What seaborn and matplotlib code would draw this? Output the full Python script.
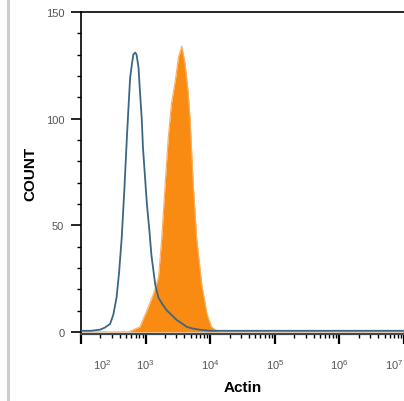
import matplotlib
matplotlib.use("Agg")
import matplotlib.pyplot as plt
import matplotlib.ticker as mticker
from matplotlib.lines import Line2D
import numpy as np
import pandas as pd
import seaborn as sn

# isotype control (open blue histogram), log10 intensity vs count
ctrl_log = [2.00, 2.15, 2.29, 2.37, 2.45, 2.50, 2.55, 2.59, 2.63, 2.67, 2.71, 2.74, 2.76, 2.79,
            2.81, 2.84, 2.86, 2.89, 2.91, 2.94, 2.96, 2.99, 3.02, 3.06, 3.09, 3.15, 3.20,
            3.26, 3.33, 3.40, 3.48, 3.56, 3.64, 3.74, 3.84, 4.00, 7.00]
ctrl_cnt = [0.5, 0.5, 1, 2, 3.7, 8, 16, 28, 44, 66, 91, 108, 119, 126,
            130, 131, 130, 124, 114, 100, 86, 73, 60, 47, 36, 22, 16,
            13, 10, 8, 5.6, 4, 2.3, 1.5, 1, 0.5, 0.5]

# actin stained sample (filled orange histogram)
actin_log = [2.00, 2.73, 2.81, 2.91, 3.02, 3.12, 3.20, 3.25, 3.30, 3.35, 3.40, 3.46, 3.51,
             3.56, 3.61, 3.66, 3.69, 3.74, 3.79, 3.87, 3.95, 4.02, 4.13, 7.00]
actin_cnt = [0, 0, 1, 2.3, 10, 17.7, 25.7, 44, 68, 91, 107, 118, 129,
             134, 126, 112, 99, 68, 44, 22, 8.4, 2.3, 0, 0]

x_ticks = [1e2, 1e3, 1e4, 1e5, 1e6, 1e7]
x_ticklabels = ["    $10^{2}$", "$10^{3}$", "$10^{4}$", "$10^{5}$", "$10^{6}$", "$10^{7}$ "]

ctrl = pd.DataFrame({"x": 10 ** np.array(ctrl_log), "y": ctrl_cnt})
actin = pd.DataFrame({"x": 10 ** np.array(actin_log), "y": actin_cnt})

plt.rcParams["font.family"] = ["Liberation Sans", "DejaVu Sans"]
plt.rcParams["mathtext.default"] = "regular"
fig = plt.figure(figsize=(4.04, 4.02), dpi=100)
ax = fig.add_axes([81 / 404, 67 / 402, 323 / 404, 322 / 402])

ax.fill_between(actin["x"], actin["y"], color="#f98a12", lw=0, zorder=2)
sn.lineplot(data=actin, x="x", y="y", color="#fbb060", lw=0.8, ax=ax, zorder=2)
sn.lineplot(data=ctrl, x="x", y="y", color="#3b6785", lw=1.3, ax=ax, zorder=3)

ax.set_xscale("log")
ax.set_xlim(1e2, 1e7)
ax.set_ylim(-1, 150)
ax.set_yticks([0, 50, 100, 150])
ax.yaxis.set_minor_locator(mticker.MultipleLocator(10))
ax.set_xticks(x_ticks)
ax.set_xticklabels(x_ticklabels)
ax.xaxis.set_minor_locator(mticker.LogLocator(base=10, subs=np.arange(2, 10), numticks=20))
ax.xaxis.set_minor_formatter(mticker.NullFormatter())
ax.get_xticklabels()[0].set_ha("left")
ax.get_xticklabels()[-1].set_ha("right")

ax.spines["right"].set_visible(False)
ax.spines["top"].set_linewidth(1.2)
ax.spines["left"].set_linewidth(1.2)
ax.spines["bottom"].set_linewidth(1.6)
ax.spines["bottom"].set_color("#3a4a55")

ax.tick_params(axis="y", which="major", length=7, width=1.2, pad=5, labelsize=8, labelcolor="#555555")
ax.tick_params(axis="y", which="minor", length=3, width=1)
ax.tick_params(axis="x", which="major", length=7, width=1.6, pad=10, labelsize=8, labelcolor="#555555")
ax.tick_params(axis="x", which="minor", length=3, width=1)

ax.set_xlabel("Actin", fontsize=11, fontweight="bold", labelpad=6)
ax.set_ylabel("COUNT", fontsize=11, fontweight="bold", labelpad=6)

# grey frame line on the left edge
fig.add_artist(Line2D([8 / 404, 8 / 404], [0, 1], color="#cccccc", lw=2.2, transform=fig.transFigure))

fig.savefig("out.png", dpi=100)
